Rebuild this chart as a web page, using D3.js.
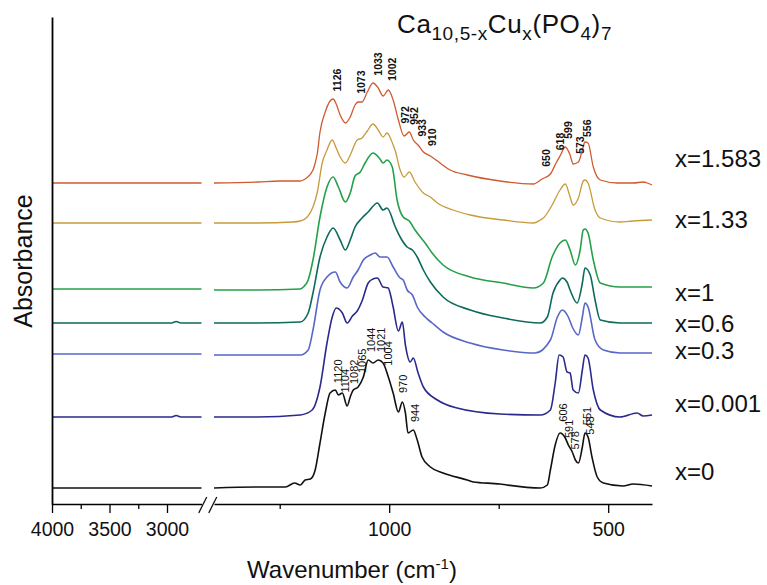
<!DOCTYPE html>
<html lang="en">
<head>
<meta charset="UTF-8">
<title>FTIR Ca10,5-xCux(PO4)7</title>
<script src="https://cdn.jsdelivr.net/npm/d3@7"></script>
<style>
    body { margin: 0; background: #fff; }
    text { font-family: "Liberation Sans", Arial, sans-serif; fill: #111; }
</style>
</head>
<body>
<div id="chart"></div>
<script>
    // -------- DATA --------
    // each spectrum: [wavenumber (cm-1), absorbance above its own baseline]
    var sampleNames = ["x=0", "x=0.001", "x=0.3", "x=0.6", "x=1", "x=1.33", "x=1.583"];
    var offsets = [0.16, 0.87, 1.50, 1.81, 2.15, 2.81, 3.21];

    var specX0 = [[4000, 0], [3500, 0], [3000, 0], [2700, 0],
        [1400, 0], [1300, 0.01], [1237, 0.01], [1216, 0.05], [1203, 0.03], [1192, 0.08], [1180, 0.09], [1169, 0.18],
        [1158, 0.45], [1146, 0.75], [1135, 0.95], [1123, 0.98], [1116, 0.93], [1107, 0.95], [1096, 0.82], [1089, 0.91],
        [1082, 0.98], [1071, 1.01], [1059, 1.11], [1048, 1.28], [1037, 1.25], [1025, 1.28], [1014, 1.25], [1002, 1.11],
        [991, 0.95], [979, 0.76], [970, 0.86], [963, 0.75], [957, 0.55], [945, 0.58], [936, 0.48], [925, 0.31],
        [906, 0.21], [877, 0.15], [822, 0.08], [808, 0.06], [747, 0.04], [731, 0.03], [655, 0], [639, 0.03],
        [632, 0.18], [621, 0.43], [610, 0.55], [598, 0.50], [591, 0.43], [582, 0.36], [575, 0.28], [568, 0.25],
        [559, 0.41], [553, 0.55], [546, 0.51], [537, 0.31], [525, 0.11], [511, 0.05], [466, 0.02], [443, 0.04], [400, 0.02]];

    var specX0001 = [[4000, 0], [3500, 0], [3000, 0], [2960, 0], [2920, 0.015], [2880, 0], [2700, 0],
        [1400, 0], [1300, 0], [1203, 0.02], [1176, 0.07], [1158, 0.30], [1142, 0.74], [1130, 1.00], [1121, 1.09],
        [1107, 1.04], [1096, 0.94], [1084, 1.01], [1073, 1.06], [1062, 1.16], [1048, 1.34], [1037, 1.38], [1027, 1.39],
        [1014, 1.30], [1002, 1.29], [998, 1.24], [991, 1.10], [979, 0.86], [970, 0.95], [963, 0.72], [952, 0.55],
        [945, 0.59], [934, 0.44], [922, 0.30], [890, 0.17], [845, 0.09], [747, 0.03], [655, 0.02], [632, 0.07],
        [621, 0.34], [612, 0.62], [603, 0.60], [594, 0.45], [587, 0.44], [580, 0.27], [568, 0.24], [559, 0.47],
        [553, 0.62], [546, 0.59], [534, 0.27], [518, 0.07], [473, 0], [434, 0.04], [420, 0.01], [400, 0.02]];

    var specX03 = [[4000, 0], [3500, 0], [3000, 0], [2700, 0],
        [1400, -0.01], [1300, -0.01], [1203, -0.01], [1185, 0.04], [1174, 0.24], [1158, 0.64], [1142, 0.77], [1123, 0.82],
        [1112, 0.72], [1096, 0.66], [1082, 0.77], [1071, 0.84], [1059, 0.94], [1043, 0.99], [1032, 1.01], [1021, 0.97],
        [1005, 0.97], [991, 0.87], [975, 0.76], [968, 0.74], [959, 0.64], [947, 0.59], [936, 0.47], [918, 0.37],
        [902, 0.31], [877, 0.22], [815, 0.11], [740, 0.04], [667, 0.01], [632, 0.14], [616, 0.37], [605, 0.44],
        [591, 0.37], [582, 0.27], [568, 0.19], [559, 0.37], [553, 0.51], [546, 0.47], [530, 0.14], [511, 0.04],
        [473, 0.01], [400, 0.01]];

    var specX06 = [[4000, 0], [3500, 0], [3000, 0], [2960, 0], [2920, 0.015], [2880, 0], [2700, 0],
        [1400, 0], [1300, 0], [1203, 0.01], [1185, 0.10], [1174, 0.30], [1158, 0.66], [1142, 0.86], [1128, 0.95],
        [1112, 0.83], [1100, 0.73], [1089, 0.83], [1078, 0.96], [1062, 1.05], [1048, 1.11], [1027, 1.20], [1014, 1.13],
        [1005, 1.15], [986, 0.96], [975, 0.86], [959, 0.76], [947, 0.73], [936, 0.66], [922, 0.53], [906, 0.41],
        [877, 0.26], [815, 0.13], [740, 0.05], [655, 0], [639, 0.06], [626, 0.30], [610, 0.43], [605, 0.45],
        [594, 0.41], [587, 0.33], [571, 0.20], [559, 0.40], [553, 0.55], [541, 0.48], [530, 0.23], [518, 0.03],
        [473, 0], [400, 0]];

    var specX1 = [[4000, 0], [3500, 0], [3000, 0], [2700, 0],
        [1400, -0.01], [1300, -0.01], [1203, 0], [1196, 0.02], [1185, 0.09], [1174, 0.29], [1158, 0.72], [1142, 1.02],
        [1128, 1.12], [1116, 1.02], [1100, 0.87], [1089, 0.96], [1078, 1.13], [1066, 1.17], [1055, 1.26], [1037, 1.36],
        [1021, 1.30], [1014, 1.26], [1005, 1.29], [993, 1.22], [982, 0.89], [968, 0.72], [954, 0.68], [941, 0.59],
        [918, 0.46], [902, 0.36], [877, 0.24], [815, 0.12], [740, 0.06], [671, 0.01], [648, 0.06], [628, 0.32],
        [610, 0.46], [598, 0.49], [587, 0.39], [575, 0.24], [564, 0.39], [557, 0.59], [553, 0.60], [546, 0.56],
        [534, 0.29], [518, 0.06], [473, 0.02], [400, 0.02]];

    var specX133 = [[4000, 0], [3500, 0], [3000, 0], [2700, 0],
        [1400, 0], [1300, 0], [1220, 0.01], [1203, 0.02], [1187, 0.06], [1174, 0.16], [1164, 0.31], [1153, 0.60],
        [1142, 0.73], [1130, 0.83], [1121, 0.75], [1112, 0.66], [1100, 0.60], [1089, 0.68], [1073, 0.83], [1062, 0.85],
        [1050, 0.92], [1037, 0.99], [1025, 0.93], [1014, 0.86], [1005, 0.90], [991, 0.78], [986, 0.72], [975, 0.53],
        [966, 0.46], [954, 0.51], [941, 0.41], [922, 0.30], [906, 0.26], [890, 0.20], [854, 0.13], [815, 0.08],
        [740, 0.03], [671, 0], [655, 0.03], [648, 0.05], [628, 0.18], [610, 0.33], [598, 0.39], [587, 0.26],
        [580, 0.18], [568, 0.25], [557, 0.42], [553, 0.43], [546, 0.40], [530, 0.13], [518, 0.05], [473, 0.01],
        [443, 0.02], [400, 0.03]];

    var specX1583 = [[4000, 0], [3500, 0], [3000, 0], [2700, 0],
        [1400, 0], [1300, 0.01], [1250, 0.02], [1203, 0.02], [1196, 0.03], [1174, 0.13], [1169, 0.20], [1164, 0.30],
        [1158, 0.51], [1146, 0.71], [1135, 0.82], [1128, 0.84], [1121, 0.79], [1112, 0.68], [1100, 0.60], [1089, 0.66],
        [1078, 0.78], [1071, 0.81], [1062, 0.81], [1050, 0.91], [1037, 1.00], [1025, 0.95], [1014, 0.87], [1002, 0.93],
        [991, 0.83], [979, 0.63], [966, 0.47], [954, 0.51], [945, 0.43], [934, 0.38], [922, 0.31], [906, 0.27],
        [884, 0.20], [861, 0.13], [822, 0.08], [747, 0.02], [671, -0.01], [651, 0.04], [632, 0.09], [619, 0.20],
        [610, 0.27], [598, 0.36], [587, 0.28], [580, 0.19], [568, 0.21], [559, 0.33], [553, 0.41], [546, 0.40],
        [534, 0.16], [518, 0.03], [479, 0], [443, 0], [420, 0.01], [411, 0], [400, -0.02]];

    var spectra = [specX0, specX0001, specX03, specX06, specX1, specX133, specX1583];

    // band positions written on the top and bottom spectra
    var bandsTop = [1126, 1073, 1033, 1002, 972, 952, 933, 910, 650, 618, 599, 573, 556];
    var bandsBottom = [1120, 1104, 1082, 1065, 1044, 1021, 1004, 970, 944, 606, 591, 578, 551, 543];

    var majorLeft = [4000, 3500, 3000], minorLeft = [3750, 3250];
    var majorRight = [1000, 500], minorRight = [1250, 750];

    // -------- STYLE --------
    var colors = ["#111111", "#2a2a8c", "#5866c8", "#0e6a5c", "#25a04a", "#c89a3c", "#cf5a30"];
    var nameShift = [-8, -5, 5, 9, 12, 5, -16];
    var liftOverride = { 1104: 4, 1082: 6, 972: 5, 591: 7, 578: 7, 650: 12, 618: 12, 606: 13 };

    var width = 767, height = 585;
    var svg = d3.select("#chart")
        .append("svg")
        .attr("width", width)
        .attr("height", height);

    // broken x axis: 4000-2700 on the left, 1400-400 on the right
    var xLeft = d3.scaleLinear().domain([4000, 2700]).range([52, 201.5]);
    var xRight = d3.scaleLinear().domain([1400, 400]).range([214, 652]);
    var y = d3.scaleLinear().domain([0, 4.87]).range([504, 17]);
    var axisY = y.range()[0];

    // -------- SPECTRA --------
    spectra.forEach(function (spec, i) {
        var off = offsets[i];
        var leftPts = spec.filter(function (d) { return d[0] >= 2700; });
        var rightPts = spec.filter(function (d) { return d[0] <= 1400; });
        var lineL = d3.line()
            .x(function (d) { return xLeft(d[0]); })
            .y(function (d) { return y(d[1] + off); })
            .curve(d3.curveMonotoneX);
        var lineR = d3.line()
            .x(function (d) { return xRight(d[0]); })
            .y(function (d) { return y(d[1] + off); })
            .curve(d3.curveMonotoneX);
        [[leftPts, lineL], [rightPts, lineR]].forEach(function (p) {
            svg.append("path")
                .datum(p[0])
                .attr("d", p[1])
                .attr("fill", "none")
                .attr("stroke", colors[i])
                .attr("stroke-width", i >= 5 ? 1.3 : 1.6)
                .attr("stroke-linejoin", "round");
        });
        svg.append("text")
            .attr("x", 675)
            .attr("y", y(off) + nameShift[i])
            .attr("font-size", "24px")
            .text(sampleNames[i]);
    });

    // absorbance of a spectrum at wavenumber w (right part), used to place band labels
    function valueAt(spec, w) {
        for (var k = 1; k < spec.length; k++) {
            var a = spec[k - 1], b = spec[k];
            if (a[0] <= 1400 && a[0] >= w && b[0] <= w) {
                var t = (a[0] - w) / (a[0] - b[0]);
                return a[1] + t * (b[1] - a[1]);
            }
        }
        return 0;
    }

    function bandLabels(bands, idx, dx, size, weight) {
        svg.append("g")
            .selectAll("text")
            .data(bands)
            .enter()
            .append("text")
            .attr("transform", function (w) {
                var lift = liftOverride[w] !== undefined ? liftOverride[w] : 9;
                var yy = y(valueAt(spectra[idx], w) + offsets[idx]) - lift;
                return "translate(" + (xRight(w) + dx) + "," + yy + ") rotate(-90)";
            })
            .attr("dy", "0.36em")
            .attr("font-size", size)
            .attr("font-weight", weight)
            .text(function (w) { return w; });
    }
    bandLabels(bandsTop, 6, 3.5, "10.5px", "bold");
    bandLabels(bandsBottom, 0, 1, "11px", "normal");

    // -------- AXES --------
    function addAxis(scale, major, minor) {
        svg.append("g")
            .attr("transform", "translate(0," + axisY + ")")
            .call(d3.axisBottom(scale).tickValues(minor).tickSize(5).tickSizeOuter(0).tickFormat(""))
            .call(function (g) { g.select(".domain").remove(); })
            .selectAll("line").attr("stroke-width", 1.3);
        var g = svg.append("g")
            .attr("transform", "translate(0," + axisY + ")")
            .call(d3.axisBottom(scale).tickValues(major).tickSize(9).tickSizeOuter(0)
                .tickPadding(9).tickFormat(d3.format("d")));
        g.select(".domain").attr("stroke-width", 1.6);
        g.selectAll("line").attr("stroke-width", 1.3);
        g.selectAll("text")
            .attr("font-size", "19.5px")
            .attr("font-family", "'Liberation Sans', Arial, sans-serif")
            .attr("fill", "#111");
    }
    addAxis(xLeft, majorLeft, minorLeft);
    addAxis(xRight, majorRight, minorRight);

    // break marks between the two parts
    var gapMid = (xLeft.range()[1] + xRight.range()[0]) / 2;
    [-5, 5].forEach(function (s) {
        svg.append("line")
            .attr("x1", gapMid + s - 4).attr("y1", axisY + 9)
            .attr("x2", gapMid + s + 4).attr("y2", axisY - 7)
            .attr("stroke", "#111")
            .attr("stroke-width", 1.3);
    });

    // y axis: plain line, no ticks
    svg.append("g")
        .attr("transform", "translate(52,0)")
        .call(d3.axisLeft(y).tickValues([]).tickSizeOuter(0))
        .select(".domain")
        .attr("stroke-width", 1.8);

    // -------- TITLES --------
    svg.append("text")
        .attr("transform", "translate(32," + 261 + ") rotate(-90)")
        .attr("text-anchor", "middle")
        .attr("font-size", "25px")
        .text("Absorbance");

    var xt = svg.append("text")
        .attr("x", 352)
        .attr("y", 578)
        .attr("text-anchor", "middle")
        .attr("font-size", "24px");
    xt.append("tspan").text("Wavenumber (cm");
    xt.append("tspan").attr("dy", -9).attr("font-size", "15px").text("-1");
    xt.append("tspan").attr("dy", 9).text(")");

    var title = svg.append("text")
        .attr("x", 397)
        .attr("y", 33)
        .attr("font-size", "26px")
        .attr("letter-spacing", "0.6px");
    [["Ca", false], ["10,5-x", true], ["Cu", false], ["x", true], ["(PO", false], ["4", true], [")", false], ["7", true]]
        .forEach(function (p, k, arr) {
            var prevSub = k > 0 && arr[k - 1][1];
            var dy = p[1] ? (prevSub ? 0 : 7) : (prevSub ? -7 : 0);
            title.append("tspan")
                .attr("dy", dy)
                .attr("font-size", p[1] ? "19px" : "26px")
                .text(p[0]);
        });
</script>
</body>
</html>
